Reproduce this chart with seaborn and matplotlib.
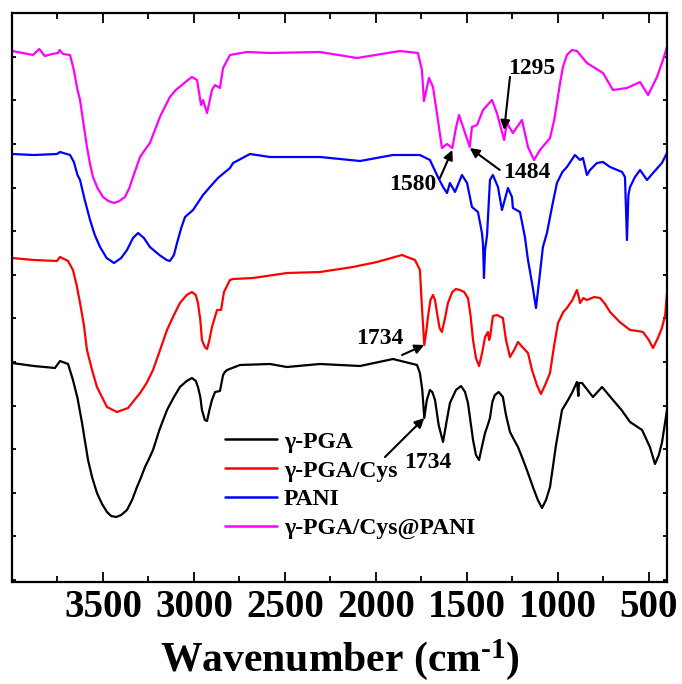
import numpy as np
import pandas as pd
import matplotlib
matplotlib.use("Agg")
import matplotlib.pyplot as plt
import seaborn as sns

# ---------------- data (transmittance, arbitrary units, offset curves) -------------
pga_wn = [4000, 3880, 3764, 3736, 3692, 3665, 3640, 3615, 3600, 3582, 3560, 3533, 3505,
          3478, 3455, 3428, 3400, 3368, 3340, 3313, 3290, 3269, 3250, 3225, 3190, 3148,
          3110, 3077, 3040, 3011, 2990, 2978, 2965, 2956, 2940, 2928, 2915, 2901, 2884,
          2857, 2840, 2830, 2818, 2747, 2582, 2489, 2307, 2087, 1906, 1774, 1758, 1745,
          1734, 1720, 1703, 1690, 1675, 1655, 1631, 1610, 1593, 1560, 1532, 1510, 1494,
          1466, 1450, 1433, 1415, 1400, 1385, 1373, 1360, 1346, 1325, 1302, 1285, 1263,
          1240, 1219, 1195, 1170, 1137, 1110, 1087, 1065, 1043, 1010, 977, 944, 920, 895,
          887, 884, 867, 807, 757, 697, 650, 603, 537, 494, 466, 445, 428, 400]
pga_t = [217, 214, 212, 219, 216, 200, 182, 157, 140, 120, 103, 87, 76,
         68, 64, 63, 65, 70, 80, 93, 103, 113, 120, 130, 150, 170,
         183, 193, 199, 202, 199, 193, 183, 170, 160, 159, 170, 180, 188,
         189, 205, 208, 210, 215, 216, 213, 216, 214, 221, 215, 207, 190,
         162, 180, 190, 188, 180, 155, 138, 160, 177, 190, 194, 188, 177,
         140, 125, 120, 135, 147, 155, 162, 178, 185, 188, 183, 165, 148,
         140, 133, 122, 110, 93, 80, 72, 80, 93, 135, 170, 180, 188, 198,
         184, 197, 197, 183, 193, 180, 170, 158, 150, 133, 116, 125, 137, 170]

cys_wn = [4000, 3880, 3753, 3736, 3692, 3665, 3645, 3626, 3605, 3588, 3560, 3533, 3478,
          3423, 3362, 3296, 3260, 3225, 3190, 3148, 3110, 3077, 3040, 3011, 2990, 2978,
          2965, 2956, 2940, 2928, 2915, 2901, 2873, 2851, 2835, 2802, 2785, 2675, 2489,
          2307, 2126, 1994, 1857, 1785, 1758, 1747, 1734, 1722, 1714, 1700, 1686, 1675,
          1664, 1650, 1637, 1620, 1604, 1580, 1560, 1538, 1515, 1494, 1480, 1466, 1450,
          1433, 1415, 1400, 1384, 1378, 1373, 1357, 1335, 1302, 1285, 1263, 1240, 1219,
          1195, 1164, 1142, 1115, 1093, 1070, 1043, 1020, 999, 970, 950, 920, 895, 885,
          878, 860, 840, 800, 768, 740, 713, 660, 603, 560, 532, 500, 477, 450, 428, 410, 400]
cys_t = [322, 320, 319, 323, 319, 310, 295, 277, 255, 230, 210, 193, 173,
         168, 172, 187, 197, 210, 228, 250, 265, 277, 285, 288, 285, 277,
         260, 240, 233, 231, 240, 253, 270, 270, 288, 300, 301, 302, 307,
         308, 313, 318, 325, 320, 310, 273, 235, 250, 263, 280, 285, 280,
         267, 252, 248, 262, 277, 288, 291, 290, 288, 282, 265, 240, 222,
         214, 228, 243, 248, 240, 242, 264, 265, 262, 240, 223, 230, 238,
         233, 227, 210, 195, 186, 195, 207, 235, 257, 268, 272, 280, 290, 283,
         277, 282, 280, 283, 282, 276, 268, 258, 250, 249, 248, 240, 232, 242, 252, 265, 287]

pani_wn = [4000, 3880, 3753, 3736, 3681, 3660, 3640, 3626, 3600, 3571, 3545, 3516, 3480,
           3439, 3400, 3368, 3335, 3307, 3275, 3242, 3190, 3150, 3132, 3110, 3093, 3070,
           3049, 3005, 2950, 2912, 2868, 2802, 2785, 2692, 2582, 2307, 2087, 1906, 1758,
           1703, 1659, 1631, 1609, 1593, 1565, 1527, 1499, 1472, 1439, 1417, 1411, 1406,
           1400, 1389, 1373, 1357, 1329, 1307, 1274, 1252, 1247, 1208, 1181, 1164, 1140,
           1120, 1098, 1082, 1060, 1030, 1005, 975, 950, 906, 878, 862, 840, 823, 785, 752,
           713, 647, 631, 620, 612, 603, 576, 548, 510, 477, 428, 400]
pani_t = [426, 425, 426, 428, 425, 418, 405, 400, 380, 360, 345, 333, 322,
          317, 322, 330, 342, 347, 342, 333, 325, 320, 319, 325, 337, 352,
          363, 370, 385, 393, 402, 412, 417, 426, 423, 423, 419, 425, 425,
          420, 403, 393, 387, 397, 388, 405, 397, 373, 368, 347, 335, 302,
          330, 345, 400, 405, 393, 370, 392, 383, 372, 368, 343, 320, 295,
          272, 307, 333, 347, 375, 397, 408, 413, 425, 420, 422, 405, 410, 417, 418,
          413, 408, 403, 340, 385, 393, 403, 410, 400, 407, 417, 427]

pani_c_wn = [4000, 3940, 3885, 3850, 3820, 3780, 3747, 3738, 3720, 3681, 3660, 3640, 3626,
             3610, 3588, 3570, 3555, 3530, 3500, 3470, 3439, 3410, 3379, 3355, 3335, 3296,
             3270, 3242, 3187, 3160, 3132, 3100, 3066, 3040, 3011, 2983, 2961, 2950, 2928,
             2901, 2884, 2857, 2840, 2802, 2709, 2582, 2307, 2104, 1868, 1769, 1747, 1736,
             1708, 1686, 1659, 1637, 1609, 1580, 1560, 1543, 1521, 1484, 1472, 1444, 1411,
             1362, 1335, 1295, 1280, 1247, 1197, 1164, 1131, 1098, 1043, 1020, 1005, 985,
             972, 950, 922, 895, 840, 752, 697, 620, 548, 504, 455, 422, 400]
pani_c_t = [529, 527, 525, 531, 524, 526, 527, 530, 526, 525, 510, 490, 480,
            460, 433, 415, 403, 392, 383, 379, 377, 379, 383, 392, 403, 423,
            430, 437, 463, 473, 483, 490, 495, 499, 503, 500, 475, 480, 467,
            490, 495, 492, 512, 525, 528, 527, 528, 522, 529, 527, 510, 479,
            502, 493, 460, 432, 436, 432, 452, 465, 453, 433, 453, 455, 470,
            480, 467, 440, 457, 447, 460, 433, 420, 430, 442, 460, 477, 500,
            513, 525, 530, 529, 517, 507, 490, 492, 498, 485, 503, 520, 533]

series_names = ["γ-PGA", "γ-PGA/Cys", "PANI", "γ-PGA/Cys@PANI"]
series_colors = ["#000000", "#FF0000", "#0000FF", "#FF00FF"]

x_ticks = [3500, 3000, 2500, 2000, 1500, 1000, 500]

# annotations: label, wavenumber of arrow head, transmittance at arrow head
annot_labels = ["1295", "1484", "1580", "1734", "1734"]
annot_wn = [1295, 1484, 1580, 1734, 1734]
annot_t = [450, 432, 430, 235, 162]
# offsets (points) of arrow tail and of text centre relative to arrow head
annot_tail = [(4.2, 38.2), (21.6, -15.8), (-8.9, -20.2), (-16.0, -7.2), (-28.3, -28.1)]
annot_text = [(20.0, 44.6), (41.0, -17.3), (-28.3, -24.5), (-31.9, 5.0), (2.7, -31.7)]

# ---------------- build long table ----------------
frames = []
for name, wn, t in zip(series_names,
                       [pga_wn, cys_wn, pani_wn, pani_c_wn],
                       [pga_t, cys_t, pani_t, pani_c_t]):
    frames.append(pd.DataFrame({"wn": wn, "t": t, "sample": name}))
df = pd.concat(frames, ignore_index=True)

# ---------------- style ----------------
sns.set_style("ticks")
plt.rcParams["font.family"] = ["Liberation Serif", "DejaVu Serif"]
plt.rcParams["font.weight"] = "bold"
plt.rcParams["mathtext.fontset"] = "custom"
plt.rcParams["mathtext.rm"] = "Liberation Serif:bold"
plt.rcParams["mathtext.it"] = "Liberation Serif:bold"
plt.rcParams["mathtext.bf"] = "Liberation Serif:bold"
plt.rcParams["mathtext.default"] = "rm"
for k in ["text.color", "axes.labelcolor", "xtick.color", "ytick.color", "axes.edgecolor"]:
    plt.rcParams[k] = "black"

fig = plt.figure(figsize=(6.82, 6.84), dpi=100)
ax = fig.add_axes([12 / 682, (684 - 582) / 684, 655 / 682, 569 / 684])

sns.lineplot(data=df, x="wn", y="t", hue="sample", hue_order=series_names,
             palette=series_colors, estimator=None, sort=False, linewidth=1.6, ax=ax)

ax.set_xlim(4000, 400)
ax.set_ylim(-2, 567)
ax.set_xticks(x_ticks)
ax.set_xticklabels([str(v) for v in x_ticks], fontsize=28, fontweight="bold")
ax.set_xticks(np.arange(3750, 400, -250), minor=True)
ax.set_yticks(np.arange(0, 567, 43.6))
ax.set_yticklabels([])
ax.set_ylabel("")
ax.set_xlabel(r"Wavenumber (cm$^{\text{-}1}$)", fontsize=30, fontweight="bold", labelpad=8)

ax.tick_params(axis="x", which="major", direction="in", length=7, width=1.3,
               top=True, bottom=True, pad=5)
ax.tick_params(axis="x", which="minor", direction="in", length=4, width=1.3,
               top=True, bottom=True)
ax.tick_params(axis="y", which="major", direction="in", length=3, width=1.3,
               left=True, right=True)
for sp in ax.spines.values():
    sp.set_visible(True)
    sp.set_linewidth(1.6)
    sp.set_color("black")

# legend
handles, labels = ax.get_legend_handles_labels()
leg = ax.legend(handles, labels, loc="upper left", bbox_to_anchor=(0.325, 0.265),
                frameon=False, fontsize=17, handlelength=2.2, handletextpad=0.3,
                labelspacing=0.31, borderpad=0, borderaxespad=0)
for h in leg.legend_handles:
    h.set_linewidth(1.8)
for t in leg.get_texts():
    t.set_fontweight("bold")

# annotations
for lab, wn, tv, tail, txt in zip(annot_labels, annot_wn, annot_t, annot_tail, annot_text):
    ax.annotate("", xy=(wn, tv), xytext=tail, textcoords="offset points",
                arrowprops=dict(arrowstyle="-|>", color="black", lw=1.5,
                                mutation_scale=14, shrinkA=0, shrinkB=0))
    ax.annotate(lab, xy=(wn, tv), xytext=txt, textcoords="offset points",
                ha="center", va="center", fontsize=17, fontweight="bold")

fig.savefig("out.png", dpi=100)
